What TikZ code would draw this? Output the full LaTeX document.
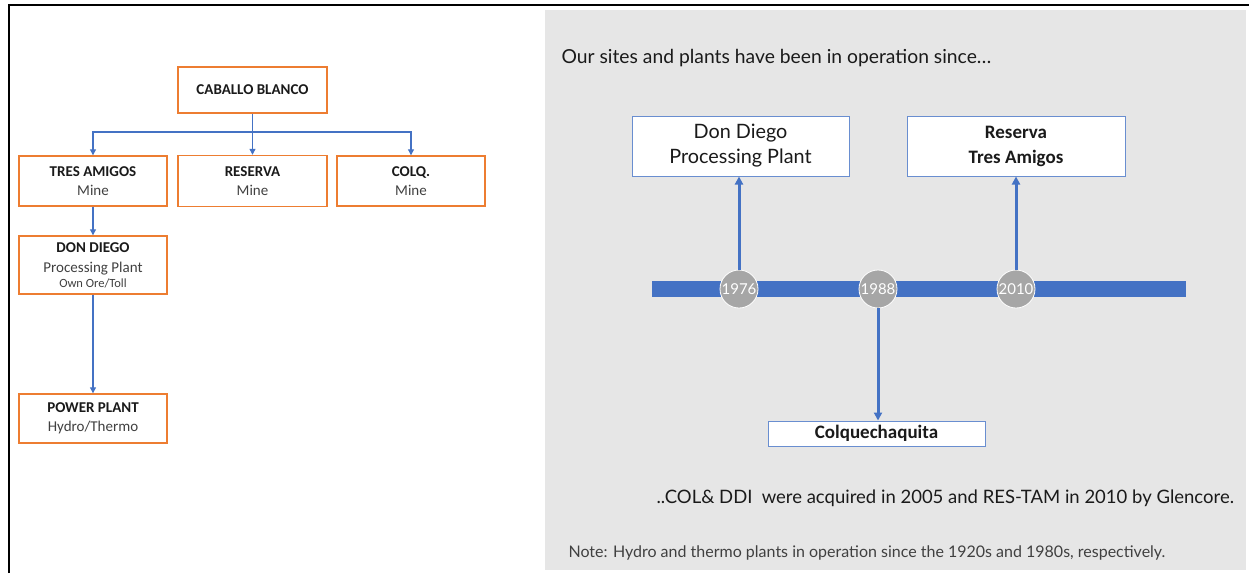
\documentclass[tikz,border=0pt]{standalone}
\usepackage{fontspec}
\setmainfont{Carlito}
\newfontfamily\latofont{Lato}
\usetikzlibrary{arrows.meta}

\definecolor{orgline}{HTML}{ED7D31}
\definecolor{bluline}{HTML}{4472C4}
\definecolor{panelgray}{HTML}{E6E6E6}
\definecolor{dotgray}{HTML}{A6A6A6}
\definecolor{subgray}{HTML}{404040}
\definecolor{txtdark}{HTML}{1A1A1A}

\tikzset{
  site/.style = {draw=orgline, line width=1.4pt, fill=white, inner sep=0pt,
    align=center, text=txtdark, font=\fontsize{15}{19}\selectfont},
  link/.style = {draw=bluline, line width=1.1pt, -{Triangle[width=6pt,length=6pt]}},
  event/.style = {draw=bluline!80, line width=1pt, fill=white, inner sep=0pt,
    align=center, text=txtdark},
  jump/.style = {draw=bluline, line width=3pt, -{Triangle[width=8pt,length=8pt]}},
  year/.style = {circle, fill=dotgray, draw=white, line width=0.8pt, minimum size=38pt,
    inner sep=0pt, text=white, font=\latofont\fontsize{15}{15}\selectfont}
}

\begin{document}
\begin{tikzpicture}[x=1pt, y=-1pt]

\useasboundingbox (0,0) rectangle (1249,573);

% frame and grey panel
\draw[line width=2.4pt] (9,573) -- (9,5) -- (1249,5);
\fill[panelgray] (545,10) rectangle (1246,570);

% organisation chart
\node [site, minimum width=149pt, minimum height=46pt] (cb) at (252.5,90) {\bfseries CABALLO BLANCO};
\node [site, minimum width=148pt, minimum height=50pt] (ta) at (93,181)
  {\bfseries TRES AMIGOS\\ \textcolor{subgray}{Mine}};
\node [site, minimum width=149pt, minimum height=51pt] (res) at (252.5,181)
  {\bfseries RESERVA\\ \textcolor{subgray}{Mine}};
\node [site, minimum width=148pt, minimum height=50pt] (colq) at (411,181)
  {\bfseries COLQ.\\ \textcolor{subgray}{Mine}};
\node [site, minimum width=148pt, minimum height=58pt] (dd) at (93,265)
  {\bfseries DON DIEGO\\[1pt] \textcolor{subgray}{Processing Plant}\\[-4pt]
   \textcolor{subgray}{\fontsize{12.5}{12}\selectfont Own Ore/Toll}};
\node [site, minimum width=148pt, minimum height=49pt] (pp) at (93,418.5)
  {\bfseries POWER PLANT\\ \textcolor{subgray}{Hydro/Thermo}};

\coordinate (split) at (252.5,132);
\draw[draw=bluline, line width=1.1pt] (cb.south) -- (split);
\draw[link] (split) -| (ta.north);
\draw[link] (split) -- (res.north);
\draw[link] (split) -| (colq.north);
\draw[link] (ta.south) -- (dd.north);
\draw[link] (dd.south) -- (pp.north);

% timeline
\node [anchor=west, text=txtdark, font=\latofont\fontsize{19.3}{20}\selectfont] (title) at (558,58)
  {Our sites and plants have been in operation since\dots};

\fill[bluline] (652,281) rectangle (1186,297);
\node [year] (y76) at (739,289) {1976};
\node [year] (y88) at (878,289) {1988};
\node [year] (y10) at (1016,289) {2010};

\node [event, minimum width=217pt, minimum height=60pt, font=\latofont\fontsize{19.8}{25}\selectfont] (ddi) at (740.5,146)
  {Don Diego\\ Processing Plant};
\node [event, minimum width=218pt, minimum height=60pt, font=\bfseries\fontsize{19}{25}\selectfont] (rta) at (1016,146)
  {Reserva\\ Tres Amigos};
\node [event, minimum width=217pt, minimum height=25pt, font=\bfseries\fontsize{19}{19}\selectfont] (col) at (876.5,433.5)
  {Colquechaquita};

\draw[jump] (y76.north) -- (y76.north |- ddi.south);
\draw[jump] (y10.north) -- (y10.north |- rta.south);
\draw[jump] (y88.south) -- (y88.south |- col.north);

\node [anchor=west, text=txtdark, font=\latofont\fontsize{18.5}{19}\selectfont] (deal) at (653,498)
  {..COL\& DDI\enspace were acquired in 2005 and RES-TAM in 2010 by Glencore.};
\node [anchor=west, text=subgray, font=\latofont\fontsize{16}{16}\selectfont] (note) at (565,553)
  {Note: Hydro and thermo plants in operation since the 1920s and 1980s, respectively.};

\end{tikzpicture}
\end{document}
